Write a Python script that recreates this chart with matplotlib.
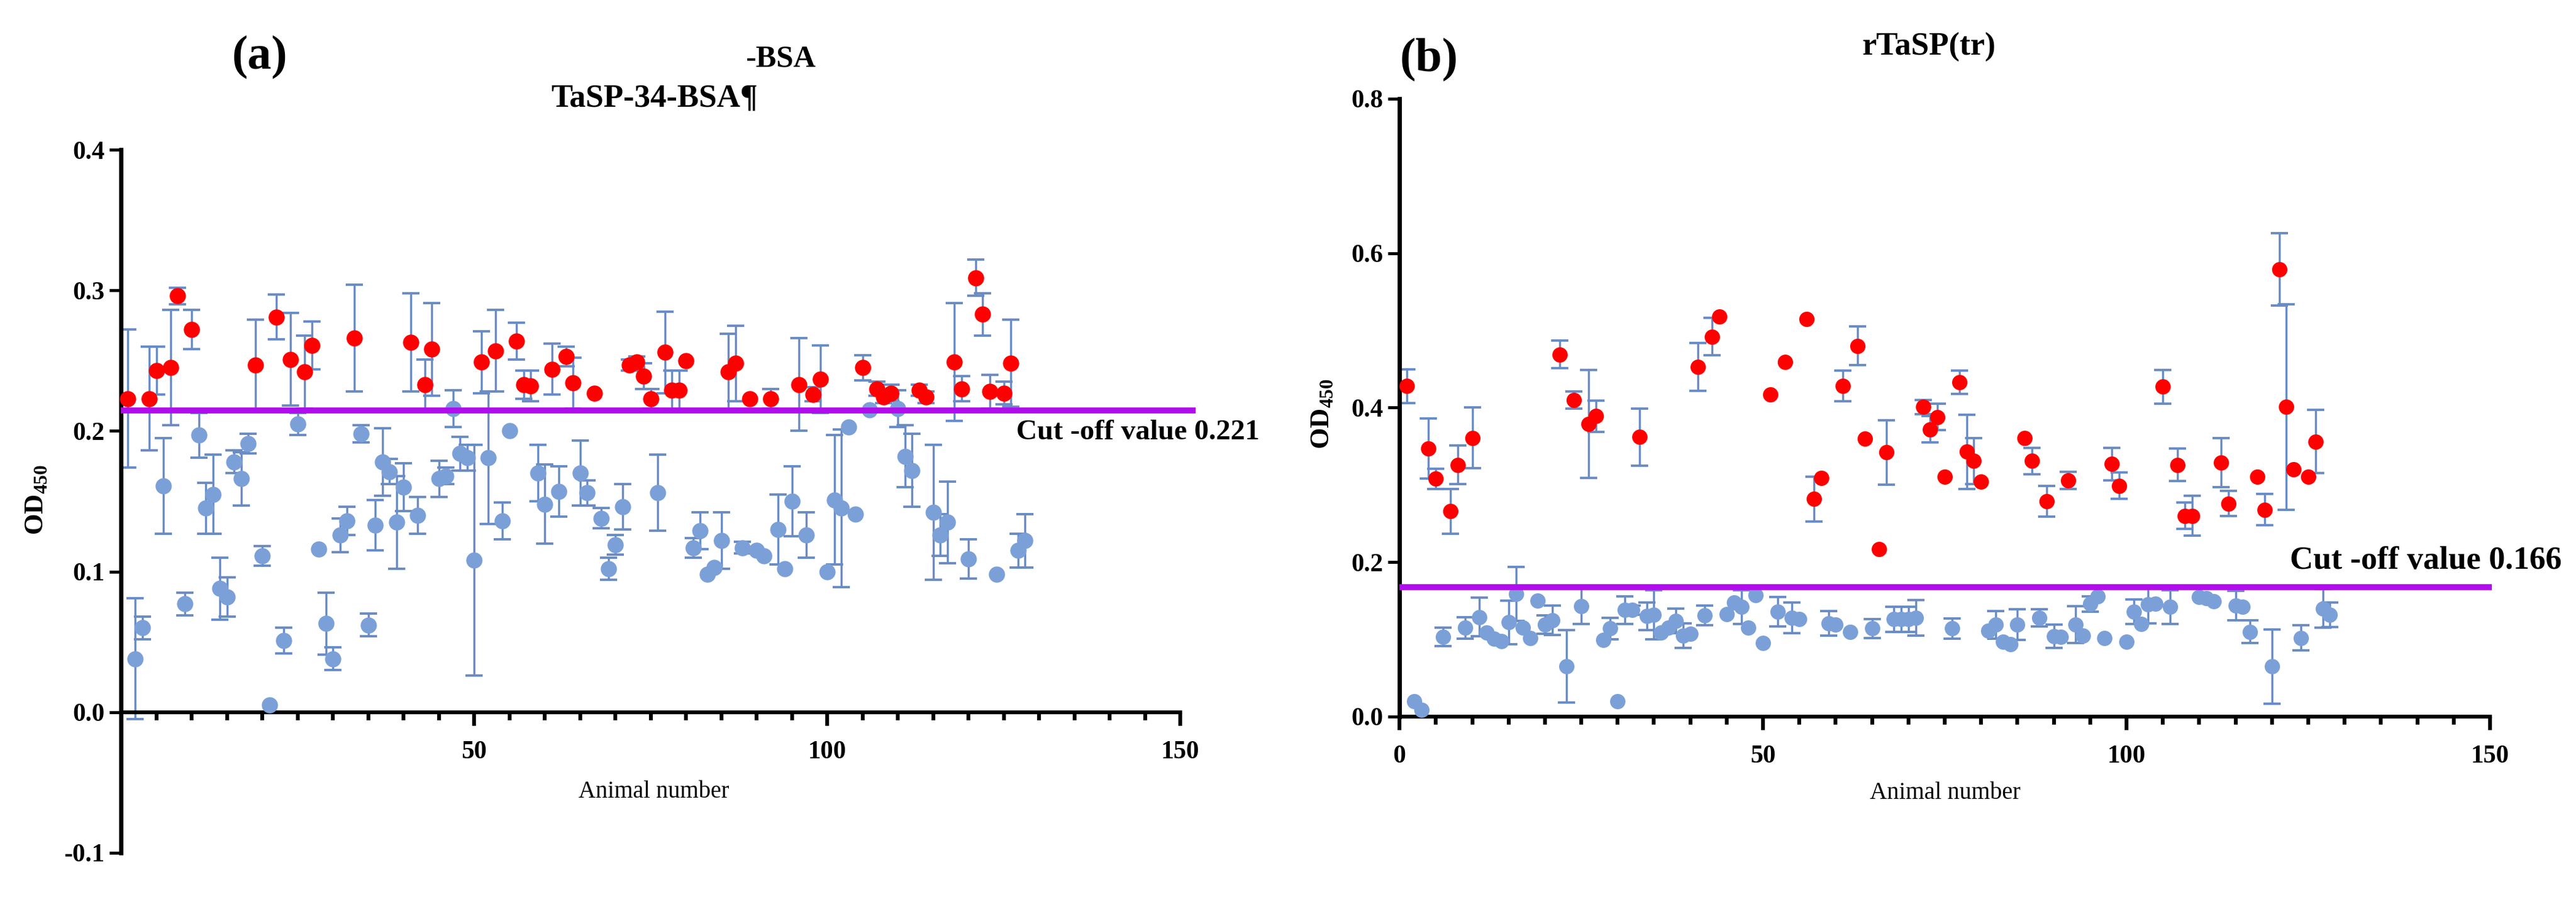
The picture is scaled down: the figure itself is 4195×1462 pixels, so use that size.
"""
Two panel ELISA screen: OD450 per animal, with SD error bars and a cut-off line.
Panel (a) TaSP-34-BSA, panel (b) rTaSP(tr). Points above the cut-off are red.
"""

import matplotlib
matplotlib.use("Agg")
import matplotlib.pyplot as plt
import numpy as np

plt.rcParams["font.family"] = ["Liberation Serif", "DejaVu Serif"]
plt.rcParams["axes.unicode_minus"] = False
plt.rcParams["mathtext.fontset"] = "custom"
plt.rcParams["mathtext.rm"] = "Liberation Serif"
plt.rcParams["mathtext.bf"] = "Liberation Serif:bold"

# ---- data ------------------------------------------------------------------
animal = np.arange(1, 129)  # animal numbers 1..128

# panel (a): TaSP-34-BSA
a_mean = [
    0.223, 0.038, 0.060, 0.223, 0.243, 0.161, 0.245, 0.296, 0.077, 0.272,
    0.197, 0.145, 0.155, 0.088, 0.082, 0.178, 0.166, 0.191, 0.247, 0.111,
    0.005, 0.281, 0.051, 0.251, 0.205, 0.242, 0.261, 0.116, 0.063, 0.038,
    0.126, 0.136, 0.266, 0.198, 0.062, 0.133, 0.178, 0.171, 0.135, 0.160,
    0.263, 0.140, 0.233, 0.258, 0.166, 0.168, 0.216, 0.184, 0.181, 0.108,
    0.249, 0.181, 0.257, 0.136, 0.200, 0.264, 0.233, 0.232, 0.170, 0.148,
    0.244, 0.157, 0.253, 0.234, 0.170, 0.156, 0.227, 0.138, 0.102, 0.119,
    0.146, 0.247, 0.249, 0.239, 0.223, 0.156, 0.256, 0.229, 0.229, 0.250,
    0.117, 0.129, 0.098, 0.103, 0.122, 0.242, 0.248, 0.117, 0.223, 0.115,
    0.111, 0.223, 0.130, 0.102, 0.150, 0.233, 0.126, 0.226, 0.237, 0.100,
    0.151, 0.145, 0.203, 0.141, 0.245, 0.215, 0.230, 0.224, 0.227, 0.216,
    0.182, 0.172, 0.229, 0.224, 0.142, 0.126, 0.135, 0.249, 0.230, 0.109,
    0.309, 0.283, 0.228, 0.098, 0.227, 0.248, 0.115, 0.122,
]
a_sd = [
    0.049, 0.043, 0.008, 0.037, 0.017, 0.034, 0.041, 0.006, 0.008, 0.014,
    0.016, 0.018, 0.028, 0.022, 0.014, 0.008, 0.019, 0.007, 0.032, 0.007,
    0.000, 0.016, 0.009, 0.033, 0.008, 0.026, 0.017, 0.000, 0.022, 0.008,
    0.012, 0.010, 0.038, 0.006, 0.008, 0.018, 0.024, 0.009, 0.033, 0.017,
    0.035, 0.013, 0.018, 0.033, 0.013, 0.006, 0.013, 0.012, 0.009, 0.082,
    0.022, 0.047, 0.029, 0.013, 0.000, 0.013, 0.010, 0.011, 0.020, 0.028,
    0.018, 0.018, 0.007, 0.018, 0.023, 0.009, 0.000, 0.007, 0.008, 0.007,
    0.016, 0.004, 0.004, 0.009, 0.007, 0.027, 0.029, 0.014, 0.014, 0.000,
    0.007, 0.013, 0.000, 0.000, 0.020, 0.027, 0.027, 0.004, 0.000, 0.000,
    0.000, 0.007, 0.025, 0.000, 0.025, 0.033, 0.016, 0.005, 0.024, 0.000,
    0.046, 0.056, 0.000, 0.000, 0.009, 0.000, 0.005, 0.004, 0.006, 0.013,
    0.022, 0.026, 0.004, 0.004, 0.048, 0.015, 0.029, 0.042, 0.009, 0.014,
    0.013, 0.015, 0.012, 0.000, 0.008, 0.031, 0.012, 0.019,
]
a_cutoff = 0.221       # value printed on the chart
a_cutoff_line = 0.2145  # where the purple line is actually drawn

# panel (b): rTaSP(tr)
b_mean = [
    0.428, 0.020, 0.009, 0.347, 0.308, 0.103, 0.266, 0.326, 0.115, 0.361,
    0.129, 0.109, 0.101, 0.098, 0.122, 0.159, 0.115, 0.102, 0.150, 0.119,
    0.125, 0.469, 0.065, 0.410, 0.143, 0.379, 0.389, 0.099, 0.114, 0.020,
    0.138, 0.138, 0.362, 0.130, 0.132, 0.109, 0.115, 0.124, 0.105, 0.107,
    0.453, 0.131, 0.492, 0.518, 0.133, 0.148, 0.142, 0.115, 0.157, 0.095,
    0.417, 0.136, 0.459, 0.128, 0.126, 0.515, 0.282, 0.309, 0.121, 0.119,
    0.428, 0.110, 0.480, 0.360, 0.114, 0.217, 0.342, 0.126, 0.126, 0.126,
    0.128, 0.401, 0.372, 0.388, 0.311, 0.114, 0.433, 0.343, 0.331, 0.304,
    0.111, 0.119, 0.097, 0.094, 0.119, 0.361, 0.331, 0.128, 0.279, 0.104,
    0.103, 0.306, 0.119, 0.105, 0.146, 0.156, 0.102, 0.327, 0.299, 0.097,
    0.136, 0.120, 0.145, 0.146, 0.427, 0.142, 0.326, 0.260, 0.260, 0.155,
    0.153, 0.149, 0.329, 0.276, 0.144, 0.142, 0.110, 0.311, 0.268, 0.065,
    0.579, 0.401, 0.320, 0.102, 0.311, 0.356, 0.140, 0.132,
]
b_sd = [
    0.022, 0.000, 0.000, 0.039, 0.013, 0.012, 0.029, 0.025, 0.014, 0.039,
    0.025, 0.000, 0.000, 0.000, 0.028, 0.035, 0.000, 0.000, 0.000, 0.012,
    0.019, 0.018, 0.047, 0.011, 0.023, 0.070, 0.020, 0.000, 0.014, 0.000,
    0.018, 0.006, 0.037, 0.018, 0.032, 0.000, 0.000, 0.016, 0.016, 0.000,
    0.031, 0.013, 0.024, 0.000, 0.000, 0.000, 0.022, 0.000, 0.000, 0.000,
    0.000, 0.019, 0.000, 0.020, 0.000, 0.000, 0.029, 0.000, 0.016, 0.000,
    0.020, 0.000, 0.025, 0.000, 0.012, 0.000, 0.042, 0.016, 0.016, 0.016,
    0.023, 0.009, 0.017, 0.017, 0.000, 0.013, 0.015, 0.048, 0.030, 0.000,
    0.000, 0.018, 0.000, 0.000, 0.020, 0.000, 0.017, 0.011, 0.020, 0.015,
    0.000, 0.011, 0.024, 0.000, 0.010, 0.000, 0.000, 0.021, 0.017, 0.000,
    0.016, 0.000, 0.024, 0.000, 0.022, 0.022, 0.021, 0.017, 0.026, 0.000,
    0.000, 0.000, 0.032, 0.016, 0.019, 0.000, 0.015, 0.000, 0.020, 0.048,
    0.047, 0.133, 0.000, 0.016, 0.000, 0.041, 0.025, 0.016,
]
b_cutoff = 0.166
b_cutoff_line = 0.168

POS_COLOR = "#FF0000"
NEG_COLOR = "#7BA0D8"
ERR_COLOR = "#6A8CC4"
CUT_COLOR = "#B10DEC"
BOLD = dict(fontweight="bold")


def draw_panel(ax, mean, sd, cutoff, cutoff_line, line_end, ms):
    """scatter + SD error bars, coloured by the cut-off value"""
    mean = np.asarray(mean)
    sd = np.asarray(sd)
    has_err = sd > 0
    ax.errorbar(animal[has_err], mean[has_err], yerr=sd[has_err], fmt="none",
                ecolor=ERR_COLOR, elinewidth=2.5, capsize=10, capthick=2.8,
                zorder=2, clip_on=False)

    pos = mean > cutoff
    ax.plot(animal[~pos], mean[~pos], "o", ms=ms, color=NEG_COLOR, mec="none",
            zorder=3, clip_on=False)
    ax.plot(animal[pos], mean[pos], "o", ms=ms, color=POS_COLOR, mec="none",
            zorder=3, clip_on=False)

    # cut-off line runs a little past the last tick on the left panel
    ax.plot([0, line_end], [cutoff_line, cutoff_line], color=CUT_COLOR, lw=7,
            solid_capstyle="butt", zorder=4, clip_on=False)


def style_axes(ax, xmajor):
    for side in ("top", "right"):
        ax.spines[side].set_visible(False)
    ax.spines["left"].set_linewidth(5)
    ax.spines["bottom"].set_linewidth(4.5)
    ax.spines["bottom"].set_position(("data", 0))

    ax.set_xlim(0, 150)
    ax.set_xticks(xmajor)
    ax.set_xticks(np.arange(5, 150, 5), minor=True)
    ax.tick_params(axis="x", which="major", direction="out", length=16,
                   width=4.5, pad=17, labelsize=30)
    ax.tick_params(axis="x", which="minor", direction="out", length=9,
                   width=4.5)
    ax.tick_params(axis="y", direction="out", length=14, width=3.5,
                   pad=5, labelsize=30)
    for lab in ax.get_xticklabels() + ax.get_yticklabels():
        lab.set_fontweight("bold")


def main():
    fig = plt.figure(figsize=(41.95, 14.62), dpi=100)

    # ---- panel (a) ----
    ax_a = fig.add_axes([0.04696, 0.04925, 0.41124, 0.78385])
    draw_panel(ax_a, a_mean, a_sd, a_cutoff, a_cutoff_line, 152.2, ms=19)
    ax_a.set_ylim(-0.1, 0.4)
    ax_a.set_yticks([-0.1, 0.0, 0.1, 0.2, 0.3, 0.4])
    ax_a.set_yticklabels(["-0.1", "0.0", "0.1", "0.2", "0.3", "0.4"])
    style_axes(ax_a, [50, 100, 150])
    ax_a.text(144.0, 0.1987, "Cut -off value 0.221", ha="center", va="center",
              fontsize=34, clip_on=False, **BOLD)

    # ---- panel (b) ----
    ax_b = fig.add_axes([0.5433, 0.2011, 0.4233, 0.6888])
    draw_panel(ax_b, b_mean, b_sd, b_cutoff, b_cutoff_line, 150.3, ms=18)
    ax_b.set_ylim(0, 0.8)
    ax_b.set_yticks([0.0, 0.2, 0.4, 0.6, 0.8])
    ax_b.set_yticklabels(["0.0", "0.2", "0.4", "0.6", "0.8"])
    style_axes(ax_b, [0, 50, 100, 150])
    ax_b.text(141.2, 0.2016, "Cut -off value 0.166", ha="center", va="center",
              fontsize=38, clip_on=False, **BOLD)

    # axis labels, placed by hand like the original layout
    fig.text(0.2539, 0.117, "Animal number", ha="center", va="center", fontsize=28)
    fig.text(0.7550, 0.1156, "Animal number", ha="center", va="center", fontsize=28)
    ylab = r"$\mathbf{OD}_{\mathbf{450}}$"
    fig.text(0.0143, 0.4425, ylab, rotation=90, ha="center", va="center", fontsize=32)
    fig.text(0.5135, 0.5383, ylab, rotation=90, ha="center", va="center", fontsize=32)

    # titles
    fig.text(0.1008, 0.9357, "(a)", ha="center", va="center", fontsize=56, **BOLD)
    fig.text(0.3030, 0.9337, "-BSA", ha="center", va="center", fontsize=36, **BOLD)
    fig.text(0.2539, 0.8906, "TaSP-34-BSA\u00b6", ha="center", va="center",
             fontsize=38, **BOLD)
    fig.text(0.5547, 0.9330, "(b)", ha="center", va="center", fontsize=56, **BOLD)
    fig.text(0.7488, 0.9473, "rTaSP(tr)", ha="center", va="center", fontsize=38, **BOLD)

    fig.savefig("out.png", dpi=100, facecolor="white")
    plt.close(fig)


if __name__ == "__main__":
    main()
